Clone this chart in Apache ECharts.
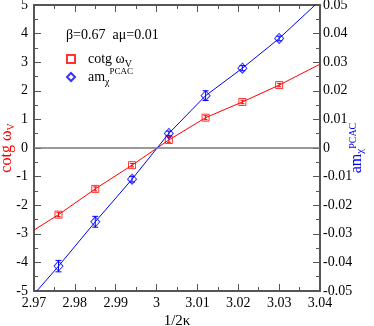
<!DOCTYPE html>
<html><head><meta charset="utf-8">
<script src="https://cdn.jsdelivr.net/npm/echarts@6/dist/echarts.min.js"></script>
<style>html,body{margin:0;padding:0;background:#fff}#c{width:374px;height:326px}</style>
</head><body><div id="c"></div>
<script>
// data
const kappaX   = [2.976, 2.985, 2.994, 3.003, 3.012, 3.021, 3.030];
const cotgVals = [-2.33, -1.43, -0.60, 0.28, 1.06, 1.61, 2.20];
const cotgErr  = [0.07, 0.07, 0.06, 0.08, 0.07, 0.06, 0.06];
const amVals   = [-0.0413, -0.0258, -0.0109, 0.0051, 0.0183, 0.0279, 0.0383];
const amErr    = [0.0020, 0.0019, 0.0010, 0.0008, 0.0017, 0.0009, 0.0008];
// fitted curves (as drawn in the picture)
const cotgFitX = [2.970, 2.976, 2.985, 2.994, 3.003, 3.012, 3.021, 3.030, 3.040];
const cotgFitY = [-2.87, -2.33, -1.43, -0.60, 0.28, 1.06, 1.61, 2.20, 2.93];
const amFitX   = [2.9707, 2.976, 2.985, 2.994, 3.003, 3.012, 3.021, 3.030, 3.0388];
const amFitY   = [-0.050, -0.0413, -0.0258, -0.0109, 0.0051, 0.0183, 0.0279, 0.0383, 0.050];
const xTicks = {min: 2.97, max: 3.04, step: 0.01};
const yLeftTicks = {min: -5, max: 5, step: 1};
const yRightTicks = {min: -0.05, max: 0.05, step: 0.01};

const RED = '#ff0000', BLUE = '#0000ff', AX = '#555';
const FONT = 'Liberation Serif';
const zip = (a, b, c) => a.map((v, i) => c ? [v, b[i], c[i]] : [v, b[i]]);
const fmt = v => String(+(+v).toFixed(2));

function errBar(color, cap) {
  return function (params, api) {
    const x = api.value(0), y = api.value(1), e = api.value(2);
    const t = api.coord([x, y + e]), b = api.coord([x, y - e]);
    const st = {stroke: color, lineWidth: 1};
    return {type: 'group', children: [
      {type: 'line', shape: {x1: t[0], y1: t[1], x2: b[0], y2: b[1]}, style: st},
      {type: 'line', shape: {x1: t[0] - cap, y1: t[1], x2: t[0] + cap, y2: t[1]}, style: st},
      {type: 'line', shape: {x1: b[0] - cap, y1: b[1], x2: b[0] + cap, y2: b[1]}, style: st}
    ]};
  };
}

const axisCommon = {
  axisLine: {show: true, onZero: false, lineStyle: {color: AX, width: 2}},
  axisTick: {show: true, inside: true, length: 7, lineStyle: {color: AX, width: 1}},
  minorTick: {show: true, splitNumber: 2, length: 4, lineStyle: {color: AX, width: 1}},
  splitLine: {show: false},
  axisLabel: {fontFamily: FONT, fontSize: 14, color: '#000', formatter: fmt}
};

const legendRich = {
  a: {fontFamily: FONT, fontSize: 14, color: '#000', lineHeight: 20, verticalAlign: 'middle'},
  s: {fontFamily: FONT, fontSize: 10, color: '#000', lineHeight: 8, verticalAlign: 'bottom'},
  p: {fontFamily: FONT, fontSize: 9, color: '#000', lineHeight: 8, verticalAlign: 'top'}
};
function legendFor(name, top, label) {
  return {
    orient: 'vertical', left: 66, top: top, padding: 0, itemWidth: 8, itemHeight: 8,
    data: [name], formatter: () => label,
    textStyle: {padding: [0, 0, 0, 8], rich: legendRich}
  };
}

const chart = echarts.init(document.getElementById('c'), null, {renderer: 'canvas'});
chart.setOption({
  animation: false,
  backgroundColor: '#fff',
  grid: {left: 34, right: 54, top: 5, bottom: 35, containLabel: false, outerBoundsMode: 'none'},
  xAxis: [
    Object.assign({}, axisCommon, {type: 'value', position: 'bottom', min: xTicks.min, max: xTicks.max, interval: xTicks.step,
      axisLabel: Object.assign({}, axisCommon.axisLabel, {margin: 5}),
      name: '1/2κ', nameLocation: 'middle', nameGap: 23, nameMoveOverlap: false,
      nameTextStyle: {fontFamily: FONT, fontSize: 15, color: '#000'}}),
    Object.assign({}, axisCommon, {type: 'value', position: 'top', min: xTicks.min, max: xTicks.max, interval: xTicks.step,
      axisLabel: {show: false}})
  ],
  yAxis: [
    Object.assign({}, axisCommon, {type: 'value', position: 'left', min: yLeftTicks.min, max: yLeftTicks.max, interval: yLeftTicks.step,
      axisLabel: Object.assign({}, axisCommon.axisLabel, {margin: 6}),
      name: '{a|cotg ω}{s|V}', nameLocation: 'middle', nameGap: 18, nameRotate: 90, nameMoveOverlap: false,
      nameTextStyle: {rich: {
        a: {fontFamily: FONT, fontSize: 16, color: RED, lineHeight: 18},
        s: {fontFamily: FONT, fontSize: 10, color: RED, lineHeight: 18, verticalAlign: 'bottom', padding: [6, 0, 0, 0]}
      }}}),
    Object.assign({}, axisCommon, {type: 'value', position: 'right', min: yRightTicks.min, max: yRightTicks.max, interval: yRightTicks.step,
      axisLabel: Object.assign({}, axisCommon.axisLabel, {margin: 3}),
      name: '{a|am}{s|χ}{p|PCAC}', nameLocation: 'middle', nameGap: 28, nameRotate: 90, nameMoveOverlap: false,
      nameTextStyle: {rich: {
        a: {fontFamily: FONT, fontSize: 16, color: BLUE, lineHeight: 18},
        s: {fontFamily: FONT, fontSize: 11, color: BLUE, lineHeight: 18, verticalAlign: 'bottom', padding: [8, 0, 0, 0]},
        p: {fontFamily: FONT, fontSize: 10, color: BLUE, lineHeight: 18, verticalAlign: 'top', padding: [0, 0, 10, 0]}
      }}})
  ],
  legend: [
    legendFor('cotg', 52, '{a|cotg ω}{s|V}'),
    legendFor('am', 67, '{a|am}{s|χ}{p|PCAC}')
  ],
  graphic: [{type: 'text', left: 66, top: 28, style: {text: 'β=0.67  aμ=0.01', font: '14px "Liberation Serif"', fill: '#000'}}],
  series: [
    {type: 'line', name: 'cotgFit', xAxisIndex: 0, yAxisIndex: 0, data: zip(cotgFitX, cotgFitY), showSymbol: false,
     lineStyle: {color: RED, width: 1}, z: 2,
     markLine: {silent: true, symbol: 'none', label: {show: false}, lineStyle: {color: '#777', width: 1.5, type: 'solid'}, data: [{yAxis: 0}]}},
    {type: 'line', name: 'amFit', xAxisIndex: 0, yAxisIndex: 1, data: zip(amFitX, amFitY), showSymbol: false,
     lineStyle: {color: BLUE, width: 1}, z: 2},
    {type: 'custom', name: 'cotgErr', xAxisIndex: 0, yAxisIndex: 0, data: zip(kappaX, cotgVals, cotgErr), renderItem: errBar(RED, 2), z: 3},
    {type: 'custom', name: 'amErr', xAxisIndex: 0, yAxisIndex: 1, data: zip(kappaX, amVals, amErr), renderItem: errBar(BLUE, 3), z: 3},
    {type: 'scatter', name: 'cotg', xAxisIndex: 0, yAxisIndex: 0, data: zip(kappaX, cotgVals), symbol: 'rect', symbolSize: 7,
     itemStyle: {color: 'rgba(255,255,255,0)', borderColor: RED, borderWidth: 1}, z: 4},
    {type: 'scatter', name: 'am', xAxisIndex: 0, yAxisIndex: 1, data: zip(kappaX, amVals), symbol: 'diamond', symbolSize: [9, 10],
     itemStyle: {color: 'rgba(255,255,255,0)', borderColor: BLUE, borderWidth: 1}, z: 4}
  ]
});
</script></body></html>
